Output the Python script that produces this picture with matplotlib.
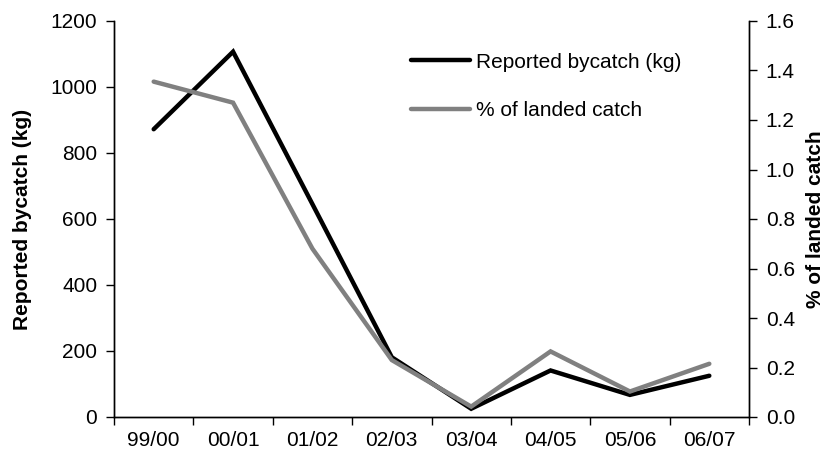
import matplotlib
matplotlib.use("Agg")
import matplotlib.pyplot as plt
import numpy as np

plt.rcParams['font.family'] = ['Liberation Sans', 'DejaVu Sans']

# data
seasons = ['99/00', '00/01', '01/02', '02/03', '03/04', '04/05', '05/06', '06/07']
bycatch_kg = [872, 1107, 645, 181, 25, 141, 67, 125]
pct_landed = [1.355, 1.27, 0.68, 0.23, 0.042, 0.265, 0.103, 0.215]

FS = 15

fig = plt.figure(figsize=(8.26, 4.59), dpi=100)
ax = fig.add_axes([114 / 826, 42 / 459, (749 - 114) / 826, (417 - 21) / 459])
ax2 = ax.twinx()

x = np.arange(len(seasons))
ax.plot(x, bycatch_kg, color='black', lw=3.2, solid_capstyle='round',
        solid_joinstyle='miter', label='Reported bycatch (kg)')
ax2.plot(x, pct_landed, color='#808080', lw=3.2, solid_capstyle='round',
         solid_joinstyle='miter', label='% of landed catch')

ax.set_xlim(-0.5, len(seasons) - 0.5)
ax.set_ylim(0, 1200)
ax.set_yticks(np.arange(0, 1201, 200))
ax2.set_ylim(0, 1.6)
ax2.set_yticks(np.arange(0, 1.61, 0.2))
ax2.set_yticklabels([f'{v:.1f}' for v in np.arange(0, 1.61, 0.2)])

# category labels centred, tick marks between categories
ax.set_xticks(x)
ax.set_xticklabels(seasons)
ax.set_xticks(np.arange(-0.5, len(seasons)), minor=True)
ax.tick_params(axis='x', which='major', length=0, pad=10, labelsize=FS)
ax.tick_params(axis='x', which='minor', length=6, width=1, direction='out')
ax.tick_params(axis='y', length=6, width=1, pad=6, labelsize=FS)
ax2.tick_params(axis='y', length=6, width=1, pad=6, labelsize=FS)

for a in (ax, ax2):
    a.spines['top'].set_visible(False)
    for s in a.spines.values():
        s.set_linewidth(1)

ax.set_ylabel('Reported bycatch (kg)', fontsize=FS, fontweight='bold', labelpad=13)
ax2.set_ylabel('% of landed catch', fontsize=FS, fontweight='bold', labelpad=8)

h1, l1 = ax.get_legend_handles_labels()
h2, l2 = ax2.get_legend_handles_labels()
ax2.legend(h1 + h2, l1 + l2, loc='upper left', bbox_to_anchor=(0.468, 0.92),
           frameon=False, fontsize=FS, handlelength=2.8, handletextpad=0.3,
           labelspacing=1.4, borderpad=0, borderaxespad=0)

fig.savefig('out.png', dpi=100)
